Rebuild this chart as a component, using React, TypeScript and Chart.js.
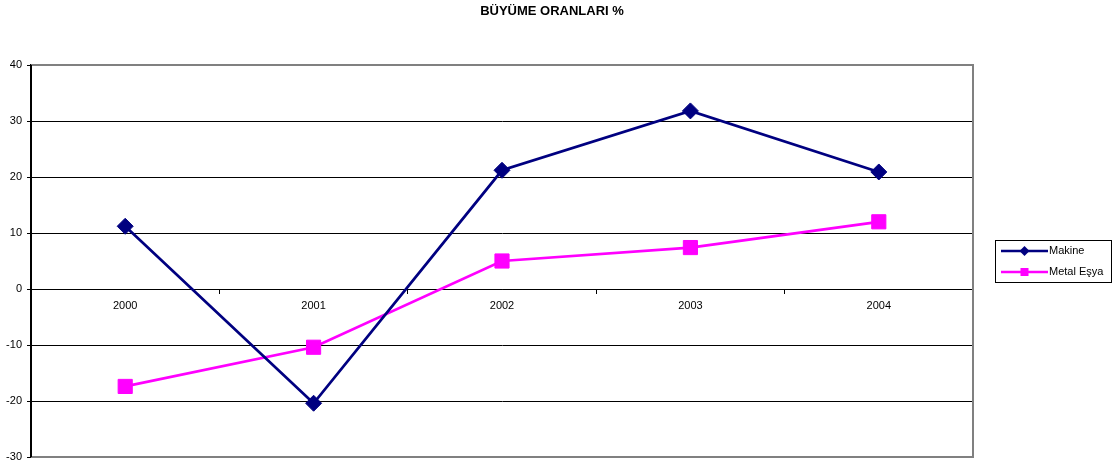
import React, { useEffect, useRef } from "react";
import { Chart, registerables } from "chart.js";

Chart.register(...registerables);

const titleText = "BÜYÜME ORANLARI %";
const categories = ["2000", "2001", "2002", "2003", "2004"];
const makine = [11.2, -20.4, 21.2, 31.8, 20.9];
const metalEsya = [-17.4, -10.4, 5.0, 7.4, 12.0];
const seriesNames = ["Makine", "Metal Eşya"];
const yMin = -30;
const yMax = 40;
const yStep = 10;

const NAVY = "#000080";
const MAGENTA = "#FF00FF";
const FONT = "'Liberation Sans', Arial, sans-serif";

const framePlugin = {
  id: "frame",
  beforeDatasetsDraw(chart: any) {
    const { ctx, chartArea } = chart;
    const { left, right, top, bottom } = chartArea;
    ctx.save();
    ctx.strokeStyle = "#808080";
    ctx.lineWidth = 2;
    ctx.beginPath();
    ctx.moveTo(left, top);
    ctx.lineTo(right, top);
    ctx.lineTo(right, bottom);
    ctx.lineTo(left, bottom);
    ctx.stroke();
    ctx.strokeStyle = "#000";
    ctx.lineWidth = 2;
    ctx.beginPath();
    ctx.moveTo(left, top);
    ctx.lineTo(left, bottom);
    ctx.stroke();
    ctx.restore();
  },
  afterDraw(chart: any) {
    const { ctx } = chart;
    ctx.save();
    // title
    ctx.fillStyle = "#000";
    ctx.font = "bold 13px " + FONT;
    ctx.textAlign = "center";
    ctx.textBaseline = "middle";
    ctx.fillText(titleText, 552, 11);
    // legend box
    ctx.strokeStyle = "#000";
    ctx.lineWidth = 1;
    ctx.strokeRect(995.5, 240.5, 116, 42);
    const items = [
      { name: seriesNames[0], color: NAVY, shape: "diamond", y: 251 },
      { name: seriesNames[1], color: MAGENTA, shape: "square", y: 272 },
    ];
    ctx.font = "11px " + FONT;
    ctx.textAlign = "left";
    for (const it of items) {
      ctx.strokeStyle = it.color;
      ctx.lineWidth = 2.5;
      ctx.beginPath();
      ctx.moveTo(1001, it.y);
      ctx.lineTo(1048, it.y);
      ctx.stroke();
      ctx.fillStyle = it.color;
      ctx.beginPath();
      if (it.shape === "diamond") {
        ctx.moveTo(1024.5, it.y - 5);
        ctx.lineTo(1029.5, it.y);
        ctx.lineTo(1024.5, it.y + 5);
        ctx.lineTo(1019.5, it.y);
        ctx.closePath();
      } else {
        ctx.rect(1020.5, it.y - 4, 8, 8);
      }
      ctx.fill();
      ctx.fillStyle = "#000";
      ctx.fillText(it.name, 1049, it.y);
    }
    ctx.restore();
  },
};

export default function App() {
  const ref = useRef<HTMLCanvasElement>(null);
  useEffect(() => {
    if (!ref.current) return;
    const chart = new Chart(ref.current, {
      type: "line",
      data: {
        labels: categories,
        datasets: [
          {
            label: seriesNames[0],
            data: makine,
            borderColor: NAVY,
            backgroundColor: NAVY,
            borderWidth: 2.7,
            pointStyle: "rectRot",
            pointRadius: 8,
            pointBorderWidth: 1,
            pointBackgroundColor: NAVY,
            pointBorderColor: NAVY,
            tension: 0,
          },
          {
            label: seriesNames[1],
            data: metalEsya,
            borderColor: MAGENTA,
            backgroundColor: MAGENTA,
            borderWidth: 2.7,
            pointStyle: "rect",
            pointRadius: 10,
            pointBorderWidth: 1,
            pointBackgroundColor: MAGENTA,
            pointBorderColor: MAGENTA,
            tension: 0,
          },
        ],
      },
      options: {
        responsive: false,
        animation: false,
        layout: { autoPadding: false, padding: { top: 65, right: 139, bottom: 7, left: 0 } },
        plugins: {
          legend: { display: false },
          title: { display: false },
          tooltip: { enabled: false },
        },
        scales: {
          x: {
            type: "category",
            position: { y: 0 } as any,
            offset: true,
            afterFit: (s: any) => {
              s.paddingTop = 0;
              s.paddingBottom = 0;
            },
            grid: {
              offset: true,
              drawOnChartArea: false,
              drawTicks: true,
              tickLength: 4,
              color: "#000",
            },
            border: { color: "#000", width: 1 },
            ticks: {
              color: "#000",
              font: { family: FONT, size: 11 },
              padding: 6,
              maxRotation: 0,
            },
          },
          y: {
            min: yMin,
            max: yMax,
            afterFit: (s: any) => {
              s.width = 31;
              s.paddingTop = 0;
              s.paddingBottom = 0;
            },
            ticks: {
              stepSize: yStep,
              color: "#000",
              font: { family: FONT, size: 11 },
              padding: 5,
            },
            grid: {
              color: "#000",
              lineWidth: 1,
              drawTicks: true,
              tickLength: 4,
            },
            border: { color: "#000", width: 2 },
          },
        },
      },
      plugins: [framePlugin],
    });
    return () => chart.destroy();
  }, []);
  return (
    <div style={{ position: "absolute", left: 0, top: 0, width: 1112, height: 464, background: "#fff" }}>
      <canvas ref={ref} width={1112} height={464} />
    </div>
  );
}
